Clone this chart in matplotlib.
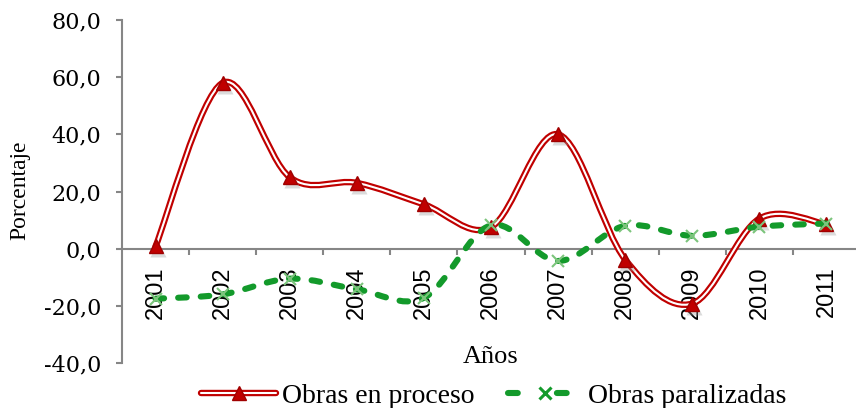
import matplotlib
matplotlib.use("Agg")
import matplotlib.pyplot as plt
from matplotlib.path import Path
from matplotlib.patches import PathPatch
from matplotlib.lines import Line2D
from matplotlib.legend_handler import HandlerTuple
import matplotlib.transforms as mtransforms
import numpy as np

years = ["2001", "2002", "2003", "2004", "2005", "2006", "2007", "2008", "2009", "2010", "2011"]
obras_proceso = [0.8, 58.0, 25.0, 23.0, 15.5, 7.5, 40.0, -3.8, -19.2, 10.5, 8.5]
obras_paralizadas = [-17.5, -16.0, -10.5, -14.2, -17.2, 8.2, -4.3, 8.0, 4.5, 7.7, 8.8]
yticks = [-40, -20, 0, 20, 40, 60, 80]

RED = "#C00000"
GREEN = "#139A2B"
GRAY = "#868686"


def smooth_path(xs, ys):
    pts = np.column_stack([xs, ys]).astype(float)
    n = len(pts)
    verts = [pts[0]]
    codes = [Path.MOVETO]
    for i in range(n - 1):
        p0 = pts[i - 1] if i > 0 else pts[i]
        p1 = pts[i]
        p2 = pts[i + 1]
        p3 = pts[i + 2] if i + 2 < n else pts[i + 1]
        c1 = p1 + (p2 - p0) / 6.0
        c2 = p2 - (p3 - p1) / 6.0
        verts += [c1, c2, p2]
        codes += [Path.CURVE4] * 3
    return Path(verts, codes)


fig = plt.figure(figsize=(8.56, 4.08), dpi=100)
ax = fig.add_axes([122 / 856, 45 / 408, 1 - 122 / 856, 343 / 408])

x = np.arange(len(years))
shadow = ax.transData + mtransforms.ScaledTranslation(2 / 100, -3 / 100, fig.dpi_scale_trans)

# Obras en proceso: double red line
p_red = smooth_path(x, obras_proceso)
ax.add_patch(PathPatch(p_red, fill=False, edgecolor=RED, lw=4.6, zorder=3, capstyle="round"))
ax.add_patch(PathPatch(p_red, fill=False, edgecolor="white", lw=1.5, zorder=3.1, capstyle="round"))
ax.plot(x, obras_proceso, linestyle="none", marker="^", markersize=11,
        markerfacecolor="#999999", markeredgecolor="none", alpha=0.35,
        transform=shadow, zorder=3.5)
ax.plot(x, obras_proceso, linestyle="none", marker="^", markersize=10,
        markerfacecolor=RED, markeredgecolor="#A00000", zorder=4)

# Obras paralizadas: dashed green line
p_green = smooth_path(x, obras_paralizadas)
ax.add_patch(PathPatch(p_green, fill=False, edgecolor=GREEN, lw=4.4,
                       linestyle=(0, (1.4, 2.3)), capstyle="round", zorder=5))
ax.plot(x, obras_paralizadas, linestyle="none", marker="x", markersize=8, mew=1.5,
        color="#7CC47C", zorder=6)

ax.set_xlim(-0.5, 10.44)
ax.set_ylim(-40, 80)

for s in ["top", "right"]:
    ax.spines[s].set_visible(False)
ax.spines["left"].set_color(GRAY)
ax.spines["left"].set_linewidth(1.5)
ax.spines["bottom"].set_position(("data", 0))
ax.spines["bottom"].set_color(GRAY)
ax.spines["bottom"].set_linewidth(1.5)

ax.set_yticks(yticks)
ax.set_yticklabels([f"{v:.1f}".replace(".", ",") for v in yticks],
                   fontfamily="DejaVu Serif", fontsize=16)
ax.tick_params(axis="y", length=4, width=1.5, color=GRAY, pad=11)

ax.set_xticks(x)
ax.set_xticklabels(years, rotation=90, fontfamily="Liberation Sans", fontsize=17)
ax.set_xticks(np.arange(0.5, len(years) - 0.5, 1.0), minor=True)
ax.tick_params(axis="x", which="major", length=0, pad=13)
ax.tick_params(axis="x", which="minor", length=4, width=1.5, color=GRAY, direction="out")

fig.text(20 / 856, 1 - 190 / 408, "Porcentaje", rotation=90, ha="center", va="center",
         fontfamily="Liberation Serif", fontsize=17)
fig.text(491 / 856, 1 - 357 / 408, "Años", ha="center", va="center",
         fontfamily="Liberation Serif", fontsize=19)

h_red_outer = Line2D([], [], color=RED, lw=4.6, solid_capstyle="round")
h_red_inner = Line2D([], [], color="white", lw=1.5, solid_capstyle="round")
h_red_mark = Line2D([], [], linestyle="none", marker="^", markersize=10,
                    markerfacecolor=RED, markeredgecolor="#A00000")
h_green_line = Line2D([], [], color=GREEN, lw=4.4, linestyle=(0, (1.6, 6.4)),
                      dash_capstyle="round")
h_green_mark = Line2D([], [], linestyle="none", marker="x", markersize=8, mew=2.2,
                      color=GREEN)
leg = fig.legend([(h_red_outer, h_red_inner, h_red_mark), (h_green_line, h_green_mark)],
                 ["Obras en proceso", "Obras paralizadas"],
                 handler_map={tuple: HandlerTuple(ndivide=1, pad=0)},
                 loc="center", bbox_to_anchor=(494 / 856, 1 - 396 / 408), ncol=2,
                 frameon=False, prop={"family": "Liberation Serif", "size": 20},
                 handlelength=2.7, handletextpad=0.2, columnspacing=1.2,
                 borderpad=0, borderaxespad=0)

fig.savefig("out.png", dpi=100)
